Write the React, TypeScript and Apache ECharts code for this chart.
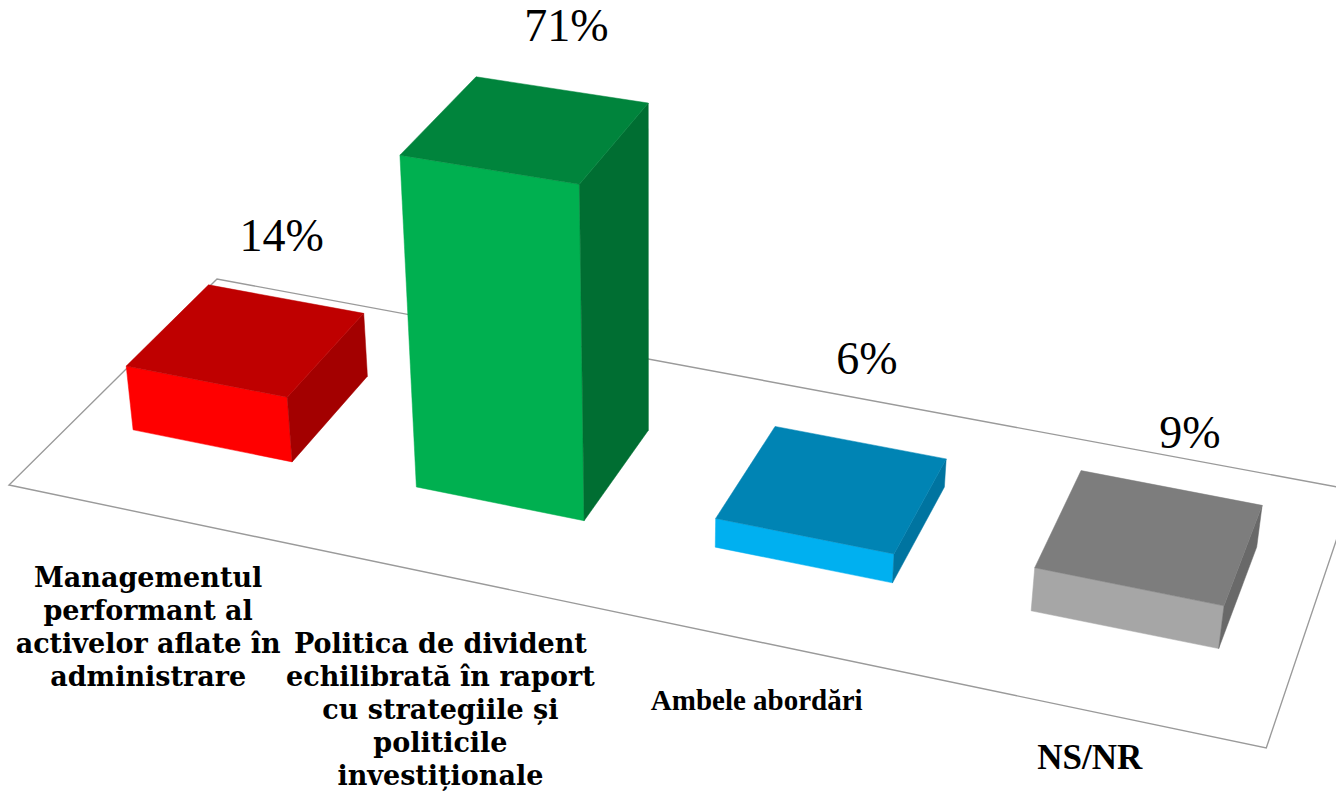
import React, { useEffect, useRef } from "react";
import * as echarts from "echarts";

const categories = [
  "Managementul\nperformant al\nactivelor aflate în\nadministrare",
  "Politica de divident\nechilibrată în raport\ncu strategiile și\npoliticile\ninvestiționale",
  "Ambele abordări",
  "NS/NR",
];
const shares = [14, 71, 6, 9];
const frontColors = ["#ff0000", "#00b050", "#00b0f0", "#a6a6a6"];
const topColors = ["#bf0000", "#00843c", "#0084b4", "#7d7d7d"];
const sideColors = ["#a30000", "#006e32", "#0074a0", "#696969"];
const categoryFonts = [27, 27, 29, 35];
const categoryFamilies = ["DejaVu Serif", "DejaVu Serif", "Liberation Serif", "Liberation Serif"];
const categoryNudges = [[-3, 46], [-7, 50], [-4, 41], [-3, 29]];
const percentNudges = [[-4, -64], [5, -64], [7, -84], [19, -55]];

// Floor perspective: unit square -> screen (homography)
const H = { a: 1120.9, b: 232.9, c: 9, d: 182.45, e: -174, f: 485, g: -0.10769, h: 0.11476 };
const floorAt = (u: number, v: number): [number, number] => {
  const w = H.g * u + H.h * v + 1;
  return [(H.a * u + H.b * v + H.c) / w, (H.d * u + H.e * v + H.f) / w];
};
// Vertical vanishing point: the bars' verticals converge downward;
// nearer (smaller v) and further-right edges look taller.
const VP = [650, 5200];
const LIFT = 0.000122;
const lift = (p: [number, number], px: number, u: number, v: number): [number, number] => {
  const side = 1 + 0.15 * (Math.min(u, 0.65) - 0.3);
  const t = 1 + px * LIFT * (1.06 - 0.118 * v) * side;
  return [VP[0] + (p[0] - VP[0]) * t, VP[1] + (p[1] - VP[1]) * t];
};
const V0 = 0.3;
const V1 = 0.7;
const BAR_RATIO = 0.568;
const U_SHIFT = -0.0022;
const WIDTH = 1336;
const HEIGHT = 793;

export default function App() {
  const ref = useRef<HTMLDivElement>(null);
  useEffect(() => {
    document.body.style.margin = "0";
    const chart = echarts.init(ref.current!, undefined, { renderer: "svg" });
    chart.setOption({
      animation: false,
      grid: { left: 0, right: 0, top: 0, bottom: 0 },
      xAxis: { type: "category", data: categories, show: false },
      yAxis: { type: "value", min: 0, max: 100, show: false },
      series: [
        {
          type: "custom",
          silent: true,
          data: [[0, 0]],
          renderItem: () => ({
            type: "polygon",
            shape: { points: [floorAt(0, 0), floorAt(1, 0), floorAt(1, 1), floorAt(0, 1)] },
            style: { fill: "none", stroke: "#9a9a9a", lineWidth: 1.4 },
          }),
        },
        {
          type: "custom",
          silent: true,
          data: shares.map((v, i) => [i, v]),
          renderItem: (_: any, api: any) => {
            const i = api.value(0);
            const val = api.value(1);
            const base = api.coord([i, 0]);
            const top = api.coord([i, val]);
            const band = api.size([1, 0])[0];
            const uc = base[0] / WIDTH + U_SHIFT;
            const hw = (band * BAR_RATIO) / 2 / WIDTH;
            const px = base[1] - top[1];
            const ul = uc - hw;
            const ur = uc + hw;
            const fl = floorAt(ul, V0);
            const fr = floorAt(ur, V0);
            const br = floorAt(ur, V1);
            const bl = floorAt(ul, V1);
            const tfl = lift(fl, px, ul, V0);
            const tfr = lift(fr, px, ur, V0);
            const tbr = lift(br, px, ur, V1);
            const tbl = lift(bl, px, ul, V1);
            const anchor = lift(floorAt(uc, V1), px, uc, V1);
            const edge = floorAt(uc - U_SHIFT, 0);
            const poly = (points: number[][], fill: string) => ({
              type: "polygon",
              shape: { points },
              style: { fill, stroke: fill, lineWidth: 0.5 },
            });
            return {
              type: "group",
              children: [
                poly([fl, fr, tfr, tfl], frontColors[i]),
                poly([fr, br, tbr, tfr], sideColors[i]),
                poly([tfl, tfr, tbr, tbl], topColors[i]),
                {
                  type: "text",
                  style: {
                    text: val + "%",
                    x: anchor[0] + percentNudges[i][0],
                    y: anchor[1] + percentNudges[i][1],
                    align: "center",
                    verticalAlign: "middle",
                    fontFamily: "Liberation Serif",
                    fontSize: 46,
                    fill: "#000",
                  },
                },
                {
                  type: "text",
                  style: {
                    text: categories[i],
                    x: edge[0] + categoryNudges[i][0],
                    y: edge[1] + categoryNudges[i][1],
                    align: "center",
                    verticalAlign: "top",
                    fontFamily: categoryFamilies[i],
                    fontWeight: "bold",
                    fontSize: categoryFonts[i],
                    lineHeight: 33,
                    fill: "#000",
                  },
                },
              ],
            };
          },
        },
      ],
    });
    return () => chart.dispose();
  }, []);
  return <div ref={ref} style={{ width: WIDTH, height: HEIGHT }} />;
}
